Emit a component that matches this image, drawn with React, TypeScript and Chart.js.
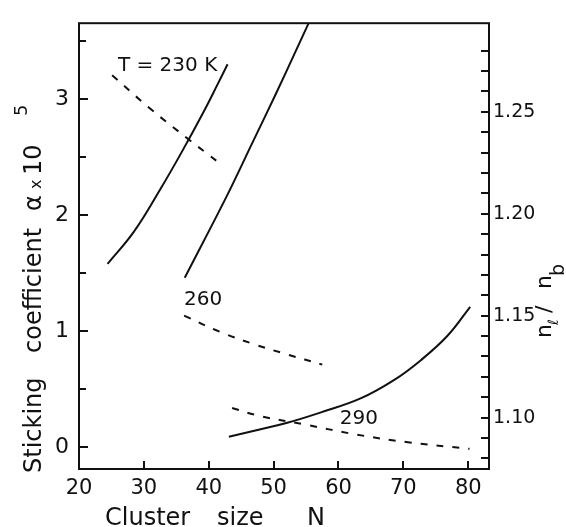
import React, { useEffect, useRef } from "react";
import { Chart, registerables } from "chart.js";

Chart.register(...registerables);

const FONT = '"DejaVu Sans", sans-serif';
const INK = "#111";

// Sticking coefficient alpha x 10^5 (left axis), solid curves
const nAlpha230 = [24.4, 28.5, 32.6, 35.7, 39.3, 41.3, 42.9];
const alpha230 = [1.58, 1.86, 2.23, 2.53, 2.9, 3.12, 3.3];
const nAlpha260 = [36.3, 40.0, 43.1, 46.7, 50.3, 53.3, 55.4];
const alpha260 = [1.46, 1.86, 2.2, 2.62, 3.04, 3.4, 3.654];
const nAlpha290 = [43.1, 48.0, 52.1, 57.3, 63.4, 68.6, 72.7, 76.8, 80.3];
const alpha290 = [0.09, 0.155, 0.21, 0.3, 0.42, 0.58, 0.75, 0.96, 1.21];

// n_l / n_b (right axis), dashed curves
const nRatio230 = [25.1, 31.0, 36.9, 41.6];
const ratio230 = [1.268, 1.2515, 1.2365, 1.225];
const nRatio260 = [36.2, 41.8, 47.0, 52.1, 57.5];
const ratio260 = [1.15, 1.142, 1.136, 1.131, 1.126];
const nRatio290 = [43.6, 48.0, 54.7, 62.4, 70.7, 80.2];
const ratio290 = [1.1047, 1.1007, 1.0967, 1.0919, 1.0879, 1.0847];

// ticks
const xTickLabels = [20, 30, 40, 50, 60, 70, 80];
const xTickMarks = [30, 40, 50, 60, 70, 80];
const leftTickLabels = [0, 1, 2, 3];
const leftTickMarks = [0, 0.5, 1, 1.5, 2, 2.5, 3, 3.5];
const rightTickLabels = [1.1, 1.15, 1.2, 1.25];
const rightTickMarks = [1.08, 1.09, 1.1, 1.11, 1.12, 1.13, 1.14, 1.15, 1.16, 1.17, 1.18, 1.19, 1.2, 1.21, 1.22, 1.23, 1.24, 1.25, 1.26, 1.27, 1.28];

// curve labels: [text, N, alpha]
const curveLabels: [string, number, number][] = [
  ["T = 230 K", 26.0, 3.24],
  ["260", 36.2, 1.222],
  ["290", 60.2, 0.2],
];

const pts = (xs: number[], ys: number[]) => xs.map((x, i) => ({ x, y: ys[i] }));

function rotText(ctx: CanvasRenderingContext2D, text: string, x: number, y: number, size: number) {
  ctx.save();
  ctx.translate(x, y);
  ctx.rotate(-Math.PI / 2);
  ctx.font = `${size}px ${FONT}`;
  ctx.textAlign = "left";
  ctx.textBaseline = "alphabetic";
  ctx.fillText(text, 0, 0);
  ctx.restore();
}

export default function App() {
  const ref = useRef<HTMLCanvasElement>(null);

  useEffect(() => {
    const canvas = ref.current!;
    const framePlugin = {
      id: "frame",
      afterDraw(chart: any) {
        const { ctx, chartArea: a, scales } = chart;
        ctx.save();
        ctx.strokeStyle = INK;
        ctx.fillStyle = INK;
        ctx.lineWidth = 2;
        ctx.strokeRect(a.left, a.top, a.right - a.left, a.bottom - a.top);
        ctx.beginPath();
        leftTickMarks.forEach((v) => {
          const y = Math.round(scales.y.getPixelForValue(v));
          const len = Number.isInteger(v) ? 9 : 7;
          ctx.moveTo(a.left, y);
          ctx.lineTo(a.left + len, y);
        });
        rightTickMarks.forEach((v) => {
          const y = Math.round(scales.y2.getPixelForValue(v));
          ctx.moveTo(a.right, y);
          ctx.lineTo(a.right - 8, y);
        });
        xTickMarks.forEach((v) => {
          const x = Math.round(scales.x.getPixelForValue(v));
          ctx.moveTo(x, a.bottom);
          ctx.lineTo(x, a.bottom - 8);
        });
        ctx.stroke();

        // curve labels
        ctx.font = `20px ${FONT}`;
        ctx.textAlign = "left";
        ctx.textBaseline = "alphabetic";
        curveLabels.forEach(([t, n, v]) => {
          ctx.fillText(t, scales.x.getPixelForValue(n), scales.y.getPixelForValue(v));
        });

        // x title
        ctx.font = `24px ${FONT}`;
        ctx.fillText("Cluster", 105, 525);
        ctx.fillText("size", 217, 525);
        ctx.fillText("N", 307, 525);

        // left title
        rotText(ctx, "Sticking", 41, 473, 24);
        rotText(ctx, "coefficient", 41, 353, 24);
        rotText(ctx, "\u03b1", 41, 211, 24);
        rotText(ctx, "x", 41, 189, 16);
        rotText(ctx, "10", 41, 175, 24);
        rotText(ctx, "5", 27, 116, 18);

        // right title
        rotText(ctx, "n", 551, 338, 22);
        rotText(ctx, "\u2113", 558, 325, 14);
        rotText(ctx, "/", 551, 313, 22);
        rotText(ctx, "n", 551, 289, 22);
        rotText(ctx, "b", 564, 276, 19);
        ctx.restore();
      },
    };

    const solid = (data: any) => ({
      data,
      yAxisID: "y",
      borderColor: INK,
      borderWidth: 2,
      pointRadius: 0,
      fill: false,
      tension: 0.4,
    });
    const dashed = (data: any) => ({
      data,
      yAxisID: "y2",
      borderColor: INK,
      borderWidth: 2,
      borderDash: [7, 9],
      pointRadius: 0,
      fill: false,
      tension: 0.4,
    });

    const chart = new Chart(canvas, {
      type: "line",
      data: {
        datasets: [
          solid(pts(nAlpha230, alpha230)),
          solid(pts(nAlpha260, alpha260)),
          solid(pts(nAlpha290, alpha290)),
          dashed(pts(nRatio230, ratio230)),
          dashed(pts(nRatio260, ratio260)),
          dashed(pts(nRatio290, ratio290)),
        ],
      },
      options: {
        responsive: false,
        animation: false,
        devicePixelRatio: 1,
        layout: { padding: { top: 14, left: 0, right: 0, bottom: 0 } },
        plugins: { legend: { display: false }, tooltip: { enabled: false } },
        scales: {
          x: {
            type: "linear",
            min: 20,
            max: 83.2,
            grid: { display: false, drawTicks: false },
            border: { display: false },
            ticks: {
              font: { family: FONT, size: 21 },
              color: INK,
              padding: 7,
              autoSkip: false,
              maxRotation: 0,
              callback: (v: any) => String(v),
            },
            afterBuildTicks: (s: any) => {
              s.ticks = xTickLabels.map((value) => ({ value }));
            },
            afterFit: (s: any) => {
              s.height = 58;
            },
          },
          y: {
            type: "linear",
            position: "left",
            min: -0.188,
            max: 3.654,
            grid: { display: false, drawTicks: false },
            border: { display: false },
            ticks: {
              font: { family: FONT, size: 22 },
              color: INK,
              padding: 10,
              callback: (v: any) => String(v),
            },
            afterBuildTicks: (s: any) => {
              s.ticks = leftTickLabels.map((value) => ({ value }));
            },
            afterFit: (s: any) => {
              s.width = 79;
            },
          },
          y2: {
            type: "linear",
            position: "right",
            min: 1.0748,
            max: 1.2935,
            grid: { display: false, drawTicks: false },
            border: { display: false },
            ticks: {
              font: { family: FONT, size: 19 },
              color: INK,
              padding: 4,
              callback: (v: any) => Number(v).toFixed(2),
            },
            afterBuildTicks: (s: any) => {
              s.ticks = rightTickLabels.map((value) => ({ value }));
            },
            afterFit: (s: any) => {
              s.width = 77;
            },
          },
        },
      },
      plugins: [framePlugin],
    });
    return () => chart.destroy();
  }, []);

  return (
    <div style={{ position: "fixed", left: 0, top: 0, width: 566, height: 527, background: "#fff" }}>
      <canvas ref={ref} width={566} height={527} style={{ display: "block" }} />
    </div>
  );
}
